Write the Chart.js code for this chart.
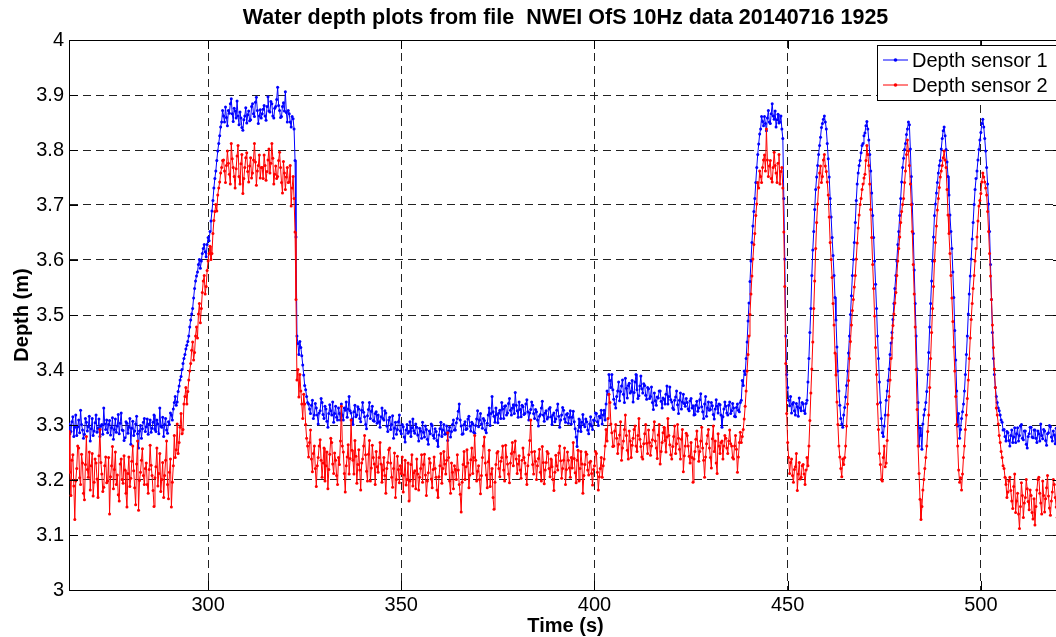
<!DOCTYPE html>
<html>
<head>
<meta charset="utf-8">
<script src="https://cdn.jsdelivr.net/npm/chart.js@4/dist/chart.umd.min.js"></script>
<style>
html,body{margin:0;padding:0;background:#fff;overflow:hidden;width:1056px;height:637px}
#wrap{width:1056px;height:637px;overflow:hidden;position:relative}
canvas{display:block}
</style>
</head>
<body>
<div id="wrap"><canvas id="c" width="1070" height="637"></canvas></div>
<script>
// ---------------- data ----------------
const chartTitle = 'Water depth plots from file  NWEI OfS 10Hz data 20140716 1925';
const xAxisTitle = 'Time (s)';
const yAxisTitle = 'Depth (m)';
const seriesLabels = ['Depth sensor 1', 'Depth sensor 2'];

const xTickValues = [300, 350, 400, 450, 500];
const xTickLabels = ['300', '350', '400', '450', '500'];
const yTickValues = [3, 3.1, 3.2, 3.3, 3.4, 3.5, 3.6, 3.7, 3.8, 3.9, 4];
const yTickLabels = ['3', '3.1', '3.2', '3.3', '3.4', '3.5', '3.6', '3.7', '3.8', '3.9', '4'];

// each row = 10 s block starting at blockStarts[r], one sample every 0.25 s
const blockStarts = [264,274,284,294,304,314,324,334,344,354,364,374,384,394,404,414,424,434,444,454,464,474,484,494,504,514];
const sampleStep = 0.25;

// Depth sensor 1 (m)
const depthSensor1 = [
[3.302,3.284,3.288,3.306,3.315,3.279,3.296,3.318,3.281,3.297,3.309,3.286,3.327,3.301,3.291,3.276,3.283,3.312,3.305,3.289,3.297,3.316,3.271,3.293,3.312,3.281,3.289,3.304,3.318,3.287,3.294,3.311,3.279,3.298,3.301,3.283,3.331,3.302,3.292,3.309],
[3.286,3.301,3.308,3.282,3.295,3.313,3.274,3.292,3.311,3.287,3.298,3.319,3.284,3.303,3.322,3.291,3.290,3.272,3.277,3.306,3.303,3.285,3.296,3.312,3.265,3.294,3.307,3.281,3.289,3.302,3.316,3.284,3.258,3.289,3.299,3.276,3.293,3.305,3.312,3.288],
[3.297,3.311,3.283,3.302,3.309,3.287,3.294,3.305,3.318,3.292,3.288,3.309,3.302,3.284,3.331,3.298,3.296,3.314,3.279,3.301,3.312,3.291,3.285,3.306,3.301,3.322,3.318,3.309,3.329,3.341,3.352,3.336,3.342,3.361,3.371,3.382,3.388,3.401,3.412,3.421],
[3.428,3.438,3.445,3.452,3.462,3.478,3.491,3.502,3.512,3.531,3.548,3.562,3.571,3.578,3.592,3.601,3.585,3.598,3.612,3.621,3.628,3.615,3.606,3.628,3.641,3.635,3.652,3.671,3.689,3.708,3.731,3.748,3.762,3.781,3.798,3.812,3.826,3.842,3.851,3.872],
[3.862,3.851,3.878,3.859,3.844,3.872,3.867,3.884,3.893,3.866,3.852,3.876,3.871,3.858,3.889,3.862,3.846,3.869,3.858,3.841,3.836,3.855,3.862,3.877,3.849,3.864,3.871,3.853,3.855,3.879,3.884,3.866,3.861,3.887,3.896,3.872,3.848,3.862,3.873,3.858],
[3.866,3.874,3.881,3.862,3.854,3.879,3.897,3.871,3.869,3.888,3.884,3.862,3.858,3.876,3.879,3.892,3.914,3.881,3.872,3.859,3.861,3.879,3.886,3.871,3.906,3.868,3.851,3.872,3.866,3.851,3.842,3.861,3.857,3.838,3.781,3.642,3.462,3.448,3.428,3.452],
[3.441,3.426,3.409,3.391,3.372,3.364,3.352,3.341,3.338,3.329,3.321,3.336,3.345,3.312,3.318,3.339,3.331,3.318,3.302,3.322,3.326,3.348,3.341,3.319,3.312,3.334,3.329,3.307,3.296,3.321,3.337,3.326,3.318,3.342,3.305,3.321,3.334,3.314,3.309,3.331],
[3.321,3.309,3.338,3.318,3.309,3.331,3.327,3.342,3.314,3.329,3.352,3.326,3.322,3.311,3.301,3.324,3.336,3.315,3.318,3.333,3.329,3.312,3.306,3.327,3.341,3.323,3.315,3.301,3.293,3.317,3.328,3.341,3.312,3.325,3.334,3.308,3.307,3.321,3.324,3.303],
[3.318,3.306,3.296,3.315,3.331,3.312,3.309,3.326,3.322,3.298,3.288,3.309,3.314,3.292,3.301,3.317,3.276,3.294,3.305,3.283,3.292,3.306,3.318,3.289,3.284,3.301,3.297,3.278,3.269,3.291,3.301,3.285,3.288,3.306,3.279,3.295,3.311,3.289,3.285,3.302],
[3.296,3.282,3.271,3.294,3.289,3.276,3.305,3.287,3.278,3.298,3.292,3.274,3.265,3.289,3.284,3.302,3.299,3.281,3.276,3.293,3.288,3.272,3.261,3.282,3.293,3.305,3.279,3.291,3.301,3.283,3.284,3.298,3.272,3.289,3.296,3.278,3.288,3.301,3.309,3.291],
[3.291,3.304,3.312,3.325,3.338,3.309,3.298,3.283,3.284,3.301,3.306,3.292,3.293,3.311,3.316,3.298,3.289,3.305,3.302,3.287,3.285,3.299,3.311,3.326,3.297,3.309,3.321,3.302,3.294,3.312,3.308,3.291,3.286,3.303,3.318,3.331,3.299,3.321,3.352,3.324],
[3.316,3.305,3.331,3.319,3.304,3.322,3.327,3.312,3.341,3.329,3.312,3.334,3.335,3.318,3.322,3.339,3.348,3.327,3.318,3.331,3.337,3.321,3.359,3.336,3.326,3.314,3.342,3.328,3.315,3.336,3.333,3.319,3.321,3.338,3.346,3.324,3.309,3.322,3.328,3.342],
[3.336,3.321,3.312,3.328,3.324,3.309,3.298,3.316,3.319,3.331,3.343,3.318,3.307,3.322,3.326,3.311,3.314,3.329,3.332,3.315,3.301,3.318,3.322,3.306,3.311,3.327,3.338,3.316,3.296,3.309,3.318,3.332,3.327,3.311,3.305,3.319,3.321,3.303,3.314,3.326],
[3.302,3.314,3.325,3.306,3.293,3.278,3.261,3.289,3.311,3.296,3.288,3.305,3.319,3.301,3.297,3.311,3.306,3.291,3.284,3.302,3.315,3.298,3.292,3.309,3.308,3.322,3.321,3.306,3.299,3.316,3.313,3.327,3.302,3.318,3.327,3.309,3.338,3.362,3.356,3.392],
[3.381,3.368,3.392,3.364,3.347,3.338,3.331,3.352,3.362,3.378,3.344,3.361,3.371,3.382,3.356,3.341,3.385,3.367,3.349,3.372,3.376,3.358,3.361,3.381,3.342,3.359,3.378,3.392,3.364,3.348,3.353,3.371,3.389,3.366,3.358,3.375,3.372,3.354,3.347,3.368],
[3.366,3.348,3.352,3.369,3.341,3.328,3.358,3.344,3.336,3.351,3.349,3.362,3.362,3.343,3.331,3.349,3.347,3.338,3.356,3.371,3.338,3.352,3.369,3.346,3.342,3.331,3.328,3.345,3.351,3.362,3.337,3.321,3.345,3.358,3.329,3.342,3.356,3.339,3.334,3.348],
[3.341,3.329,3.326,3.344,3.348,3.331,3.335,3.318,3.319,3.336,3.343,3.325,3.331,3.346,3.357,3.333,3.324,3.312,3.338,3.352,3.316,3.331,3.342,3.327,3.328,3.341,3.335,3.319,3.311,3.329,3.346,3.334,3.322,3.338,3.337,3.318,3.296,3.315,3.329,3.342],
[3.334,3.322,3.318,3.336,3.342,3.321,3.326,3.339,3.331,3.316,3.315,3.332,3.338,3.327,3.324,3.341,3.345,3.381,3.372,3.398,3.392,3.421,3.451,3.489,3.522,3.561,3.598,3.632,3.662,3.688,3.712,3.741,3.768,3.792,3.811,3.829,3.838,3.861,3.852,3.844],
[3.861,3.848,3.835,3.858,3.872,3.851,3.848,3.866,3.884,3.862,3.856,3.871,3.842,3.855,3.865,3.849,3.851,3.862,3.838,3.821,3.712,3.602,3.462,3.392,3.368,3.345,3.335,3.352,3.322,3.338,3.341,3.326,3.318,3.339,3.333,3.316,3.349,3.331,3.326,3.341],
[3.338,3.326,3.321,3.339,3.345,3.378,3.421,3.468,3.512,3.572,3.618,3.652,3.692,3.728,3.751,3.772,3.792,3.808,3.823,3.841,3.848,3.856,3.862,3.851,3.838,3.812,3.784,3.751,3.712,3.678,3.641,3.608,3.572,3.532,3.491,3.442,3.398,3.362,3.336,3.312],
[3.302,3.296,3.318,3.332,3.351,3.372,3.398,3.431,3.462,3.501,3.535,3.572,3.601,3.632,3.668,3.708,3.738,3.758,3.772,3.781,3.795,3.808,3.812,3.826,3.831,3.844,3.852,3.838,3.818,3.792,3.762,3.722,3.681,3.641,3.598,3.556,3.512,3.462,3.421,3.378],
[3.341,3.312,3.286,3.279,3.298,3.318,3.345,3.362,3.381,3.402,3.428,3.449,3.468,3.492,3.521,3.548,3.572,3.598,3.628,3.652,3.681,3.712,3.742,3.768,3.785,3.801,3.812,3.828,3.838,3.851,3.846,3.802,3.752,3.702,3.648,3.582,3.521,3.462,3.402,3.341],
[3.262,3.295,3.281,3.256,3.302,3.318,3.328,3.341,3.361,3.392,3.432,3.478,3.521,3.562,3.598,3.642,3.681,3.702,3.722,3.741,3.758,3.772,3.781,3.802,3.821,3.835,3.842,3.826,3.801,3.778,3.752,3.718,3.682,3.652,3.621,3.578,3.532,3.472,3.418,3.362],
[3.298,3.321,3.276,3.292,3.312,3.324,3.338,3.362,3.392,3.428,3.462,3.502,3.538,3.571,3.602,3.638,3.668,3.701,3.728,3.748,3.762,3.782,3.801,3.818,3.832,3.848,3.856,3.842,3.821,3.798,3.768,3.738,3.702,3.652,3.592,3.528,3.468,3.421,3.392,3.368],
[3.352,3.341,3.331,3.326,3.318,3.309,3.305,3.291,3.292,3.279,3.271,3.288,3.286,3.272,3.262,3.281,3.291,3.268,3.278,3.295,3.268,3.284,3.295,3.271,3.281,3.298,3.301,3.276,3.273,3.289,3.289,3.265,3.258,3.279,3.284,3.296,3.296,3.278,3.277,3.291],
[3.291,3.276,3.268,3.289,3.284,3.271,3.302,3.281,3.275,3.292,3.289,3.272,3.263,3.284,3.286,3.299,3.297,3.278,3.271,3.289,3.282,3.266,3.294,3.279,3.267,3.286,3.285,3.301,3.279,3.268,3.298,3.281,3.274,3.292,3.288,3.271,3.266,3.285,3.283,3.274]
];

// Depth sensor 2 (m)
const depthSensor2 = [
[3.288,3.214,3.172,3.236,3.246,3.189,3.128,3.198,3.221,3.262,3.258,3.204,3.192,3.247,3.231,3.176,3.164,3.228,3.279,3.219,3.205,3.251,3.182,3.226,3.248,3.171,3.196,3.238,3.231,3.202,3.168,3.244,3.292,3.232,3.211,3.179,3.187,3.226,3.242,3.195],
[3.198,3.241,3.138,3.206,3.226,3.261,3.184,3.219,3.251,3.192,3.209,3.173,3.162,3.229,3.238,3.201,3.194,3.244,3.218,3.176,3.151,3.212,3.242,3.188,3.203,3.234,3.262,3.217,3.186,3.155,3.229,3.271,3.145,3.199,3.214,3.236,3.257,3.208,3.192,3.221],
[3.231,3.192,3.176,3.219,3.263,3.227,3.208,3.181,3.152,3.204,3.224,3.258,3.189,3.212,3.248,3.179,3.201,3.232,3.168,3.208,3.236,3.271,3.192,3.166,3.214,3.238,3.151,3.196,3.226,3.281,3.241,3.255,3.302,3.248,3.268,3.296,3.321,3.284,3.292,3.338],
[3.352,3.368,3.338,3.361,3.382,3.398,3.412,3.436,3.451,3.418,3.432,3.462,3.478,3.458,3.502,3.521,3.486,3.512,3.541,3.562,3.572,3.538,3.552,3.581,3.598,3.612,3.625,3.601,3.612,3.648,3.672,3.688,3.701,3.689,3.718,3.731,3.742,3.758,3.768,3.781],
[3.782,3.762,3.741,3.772,3.798,3.776,3.756,3.738,3.812,3.784,3.768,3.752,3.731,3.766,3.789,3.808,3.752,3.738,3.775,3.792,3.721,3.748,3.768,3.786,3.795,3.761,3.742,3.771,3.786,3.749,3.758,3.782,3.812,3.778,3.736,3.762,3.772,3.791,3.749,3.768],
[3.768,3.748,3.791,3.772,3.745,3.761,3.782,3.802,3.758,3.776,3.812,3.785,3.738,3.756,3.771,3.748,3.752,3.781,3.796,3.768,3.741,3.722,3.779,3.758,3.728,3.751,3.768,3.741,3.742,3.772,3.698,3.731,3.752,3.712,3.651,3.528,3.382,3.401,3.351,3.392],
[3.362,3.338,3.312,3.356,3.338,3.301,3.276,3.262,3.242,3.268,3.291,3.238,3.215,3.248,3.262,3.221,3.188,3.226,3.241,3.262,3.273,3.236,3.205,3.231,3.258,3.198,3.226,3.251,3.184,3.219,3.247,3.276,3.268,3.229,3.212,3.249,3.236,3.208,3.192,3.241],
[3.228,3.271,3.334,3.262,3.251,3.212,3.178,3.226,3.242,3.264,3.211,3.239,3.309,3.254,3.236,3.211,3.272,3.243,3.194,3.228,3.255,3.218,3.182,3.231,3.238,3.262,3.281,3.246,3.216,3.198,3.247,3.272,3.198,3.222,3.263,3.241,3.229,3.192,3.252,3.224],
[3.214,3.241,3.268,3.229,3.196,3.218,3.241,3.208,3.176,3.221,3.232,3.255,3.258,3.231,3.205,3.187,3.221,3.249,3.168,3.201,3.243,3.219,3.195,3.226,3.212,3.242,3.178,3.209,3.236,3.191,3.201,3.231,3.162,3.198,3.228,3.246,3.189,3.213,3.217,3.184],
[3.238,3.211,3.182,3.205,3.221,3.246,3.196,3.228,3.247,3.209,3.172,3.198,3.213,3.239,3.231,3.202,3.186,3.219,3.242,3.221,3.205,3.182,3.168,3.206,3.226,3.248,3.194,3.221,3.252,3.229,3.211,3.236,3.286,3.241,3.198,3.176,3.231,3.214,3.184,3.226],
[3.219,3.201,3.246,3.218,3.192,3.174,3.142,3.196,3.228,3.252,3.201,3.224,3.255,3.231,3.186,3.209,3.237,3.258,3.212,3.241,3.281,3.236,3.198,3.216,3.226,3.201,3.175,3.208,3.241,3.262,3.278,3.231,3.209,3.186,3.233,3.254,3.188,3.211,3.221,3.168],
[3.147,3.196,3.228,3.249,3.252,3.221,3.206,3.234,3.241,3.262,3.218,3.198,3.263,3.242,3.229,3.211,3.195,3.231,3.248,3.268,3.226,3.251,3.271,3.238,3.212,3.229,3.244,3.218,3.203,3.236,3.258,3.241,3.231,3.211,3.192,3.226,3.246,3.272,3.309,3.251],
[3.228,3.211,3.252,3.234,3.201,3.226,3.239,3.256,3.214,3.198,3.261,3.232,3.193,3.218,3.232,3.252,3.248,3.221,3.206,3.238,3.224,3.201,3.181,3.214,3.245,3.226,3.218,3.249,3.262,3.235,3.203,3.221,3.236,3.258,3.192,3.219,3.251,3.236,3.222,3.205],
[3.241,3.222,3.268,3.239,3.213,3.195,3.236,3.254,3.198,3.221,3.252,3.229,3.176,3.208,3.228,3.251,3.247,3.218,3.209,3.232,3.234,3.212,3.191,3.219,3.226,3.252,3.248,3.214,3.182,3.206,3.221,3.241,3.205,3.226,3.238,3.262,3.292,3.271,3.312,3.356],
[3.341,3.302,3.286,3.261,3.262,3.289,3.301,3.276,3.248,3.265,3.282,3.306,3.236,3.258,3.271,3.292,3.318,3.281,3.254,3.238,3.289,3.271,3.241,3.263,3.276,3.292,3.298,3.262,3.252,3.281,3.312,3.274,3.261,3.242,3.238,3.266,3.284,3.301,3.267,3.248],
[3.291,3.268,3.245,3.262,3.273,3.291,3.306,3.271,3.258,3.239,3.282,3.301,3.229,3.252,3.268,3.286,3.296,3.272,3.251,3.278,3.312,3.281,3.264,3.246,3.238,3.261,3.279,3.298,3.248,3.266,3.301,3.276,3.256,3.238,3.274,3.292,3.215,3.244,3.262,3.285],
[3.281,3.262,3.243,3.231,3.268,3.241,3.196,3.238,3.252,3.274,3.289,3.261,3.234,3.252,3.271,3.296,3.258,3.236,3.205,3.242,3.266,3.281,3.292,3.258,3.241,3.222,3.275,3.298,3.252,3.271,3.231,3.212,3.284,3.262,3.248,3.268,3.271,3.238,3.262,3.281],
[3.276,3.258,3.248,3.271,3.291,3.266,3.262,3.241,3.238,3.262,3.281,3.256,3.214,3.242,3.268,3.287,3.268,3.279,3.292,3.311,3.334,3.362,3.398,3.428,3.462,3.501,3.538,3.571,3.602,3.628,3.648,3.681,3.702,3.741,3.731,3.762,3.752,3.741,3.768,3.782],
[3.791,3.762,3.838,3.782,3.752,3.771,3.781,3.748,3.742,3.768,3.796,3.772,3.758,3.741,3.776,3.792,3.738,3.761,3.768,3.731,3.651,3.552,3.412,3.321,3.268,3.241,3.212,3.232,3.238,3.208,3.196,3.219,3.224,3.248,3.181,3.211,3.232,3.202,3.205,3.226],
[3.228,3.211,3.192,3.218,3.241,3.226,3.262,3.308,3.358,3.402,3.451,3.512,3.562,3.621,3.668,3.702,3.732,3.758,3.771,3.741,3.752,3.782,3.792,3.771,3.761,3.742,3.718,3.678,3.632,3.601,3.568,3.521,3.482,3.431,3.391,3.342,3.301,3.262,3.242,3.221],
[3.206,3.238,3.228,3.241,3.262,3.298,3.338,3.381,3.421,3.452,3.482,3.508,3.528,3.551,3.572,3.602,3.631,3.658,3.682,3.701,3.712,3.728,3.738,3.749,3.756,3.781,3.808,3.792,3.772,3.738,3.692,3.641,3.592,3.548,3.498,3.441,3.392,3.338,3.292,3.248],
[3.228,3.201,3.198,3.241,3.262,3.224,3.231,3.272,3.318,3.352,3.382,3.421,3.458,3.481,3.502,3.522,3.541,3.572,3.598,3.621,3.642,3.668,3.688,3.701,3.712,3.741,3.762,3.792,3.818,3.798,3.772,3.738,3.701,3.652,3.592,3.538,3.478,3.401,3.328,3.262],
[3.212,3.165,3.128,3.152,3.182,3.201,3.221,3.241,3.262,3.288,3.318,3.368,3.421,3.468,3.512,3.552,3.598,3.632,3.662,3.691,3.712,3.732,3.751,3.762,3.772,3.786,3.798,3.782,3.768,3.728,3.682,3.648,3.612,3.572,3.531,3.488,3.442,3.398,3.352,3.301],
[3.262,3.218,3.196,3.204,3.182,3.211,3.241,3.262,3.292,3.318,3.348,3.382,3.421,3.458,3.492,3.521,3.548,3.572,3.598,3.621,3.642,3.671,3.698,3.708,3.721,3.742,3.758,3.751,3.742,3.731,3.718,3.688,3.652,3.612,3.571,3.528,3.482,3.441,3.402,3.368],
[3.331,3.318,3.302,3.281,3.268,3.252,3.241,3.226,3.221,3.205,3.192,3.168,3.178,3.198,3.205,3.181,3.162,3.148,3.188,3.211,3.141,3.162,3.176,3.138,3.112,3.152,3.195,3.172,3.132,3.158,3.168,3.201,3.184,3.161,3.146,3.182,3.172,3.141,3.129,3.166],
[3.118,3.152,3.182,3.201,3.205,3.176,3.158,3.138,3.198,3.172,3.142,3.166,3.186,3.208,3.171,3.149,3.136,3.162,3.178,3.201,3.192,3.168,3.151,3.132,3.174,3.191,3.142,3.168,3.188,3.156,3.161,3.182,3.145,3.128,3.179,3.195,3.152,3.171,3.168,3.142]
];

// ---------------- chart ----------------
const FONT = '"Liberation Sans", Arial, Helvetica, sans-serif';
Chart.defaults.font.family = FONT;
Chart.defaults.color = '#000';

const toPoints = rows => rows.flatMap((row, r) =>
  row.map((v, j) => ({ x: blockStarts[r] + j * sampleStep, y: v })));

const frameAndTicks = {
  id: 'frameAndTicks',
  afterDatasetsDraw(chart) {
    const { ctx, chartArea: a, scales } = chart;
    ctx.save();
    ctx.strokeStyle = '#000';
    ctx.lineWidth = 1;
    ctx.beginPath();
    ctx.moveTo(a.left, a.top + 0.5); ctx.lineTo(a.right, a.top + 0.5);
    ctx.moveTo(a.right - 0.5, a.top); ctx.lineTo(a.right - 0.5, a.bottom);
    const tl = 9;
    xTickValues.forEach(v => {
      const px = Math.round(scales.x.getPixelForValue(v)) + 0.5;
      ctx.moveTo(px, a.bottom); ctx.lineTo(px, a.bottom - tl);
      ctx.moveTo(px, a.top); ctx.lineTo(px, a.top + tl);
    });
    yTickValues.forEach(v => {
      const py = Math.round(scales.y.getPixelForValue(v)) + 0.5;
      ctx.moveTo(a.left, py); ctx.lineTo(a.left + tl, py);
      ctx.moveTo(a.right, py); ctx.lineTo(a.right - tl, py);
    });
    ctx.stroke();
    ctx.restore();
  }
};

const boxedLegend = {
  id: 'boxedLegend',
  afterDraw(chart) {
    const { ctx, chartArea: a } = chart;
    const x0 = a.right - 185, y0 = a.top + 5, w = 180, h = 55;
    ctx.save();
    ctx.fillStyle = '#fff';
    ctx.fillRect(x0, y0, w, h);
    ctx.strokeStyle = '#000';
    ctx.lineWidth = 1;
    ctx.strokeRect(x0 + 0.5, y0 + 0.5, w, h);
    chart.data.datasets.forEach((ds, i) => {
      const y = y0 + 15 + i * 25;
      ctx.strokeStyle = ds.borderColor;
      ctx.lineWidth = 1;
      ctx.beginPath();
      ctx.moveTo(x0 + 6, y); ctx.lineTo(x0 + 31, y);
      ctx.stroke();
      ctx.fillStyle = ds.borderColor;
      ctx.beginPath();
      ctx.arc(x0 + 18.5, y, 1.8, 0, Math.PI * 2);
      ctx.fill();
      ctx.fillStyle = '#000';
      ctx.font = '20px ' + FONT;
      ctx.textBaseline = 'middle';
      ctx.textAlign = 'left';
      ctx.fillText(ds.label, x0 + 35, y + 1);
    });
    ctx.restore();
  }
};

new Chart(document.getElementById('c'), {
  type: 'line',
  data: {
    datasets: [
      {
        label: seriesLabels[0],
        data: toPoints(depthSensor1),
        borderColor: '#0000ff',
        backgroundColor: '#0000ff',
        pointBackgroundColor: '#0000ff',
        borderWidth: 1,
        pointRadius: 1.5,
        pointBorderWidth: 0,
        tension: 0,
        order: 1
      },
      {
        label: seriesLabels[1],
        data: toPoints(depthSensor2),
        borderColor: '#ff0000',
        backgroundColor: '#ff0000',
        pointBackgroundColor: '#ff0000',
        borderWidth: 1,
        pointRadius: 1.5,
        pointBorderWidth: 0,
        tension: 0,
        order: 0
      }
    ]
  },
  options: {
    responsive: false,
    animation: false,
    events: [],
    layout: { padding: { left: 0, right: 8, top: 0, bottom: 0 }, autoPadding: false },
    plugins: {
      legend: { display: false },
      tooltip: { enabled: false },
      title: {
        display: true,
        text: chartTitle,
        fullSize: false,
        color: '#000',
        font: { size: 21.5, weight: 'bold', lineHeight: 1 },
        padding: { top: 7, bottom: 11.5 }
      }
    },
    scales: {
      x: {
        type: 'linear',
        min: 264,
        max: 521,
        afterBuildTicks: s => { s.ticks = xTickValues.map(v => ({ value: v })); },
        afterFit: s => { s.height = 47; },
        ticks: {
          autoSkip: false,
          maxRotation: 0,
          padding: 3,
          font: { size: 20 },
          color: '#000',
          callback: v => xTickLabels[xTickValues.indexOf(v)]
        },
        grid: { color: '#222', lineWidth: 1, drawTicks: false },
        border: { display: true, color: '#000', width: 1, dash: [8, 5] },
        title: {
          display: true,
          text: xAxisTitle,
          font: { size: 20, weight: 'bold', lineHeight: 1 },
          color: '#000',
          padding: { top: 0, bottom: 1 }
        }
      },
      y: {
        type: 'linear',
        min: 3,
        max: 4,
        afterBuildTicks: s => { s.ticks = yTickValues.map(v => ({ value: v })); },
        afterFit: s => { s.width = 69; },
        ticks: {
          autoSkip: false,
          padding: 5,
          font: { size: 20 },
          color: '#000',
          callback: v => yTickLabels[yTickValues.findIndex(t => Math.abs(t - v) < 1e-9)]
        },
        grid: { color: '#222', lineWidth: 1, drawTicks: false },
        border: { display: true, color: '#000', width: 1, dash: [8, 5] },
        title: {
          display: true,
          text: yAxisTitle,
          font: { size: 20, weight: 'bold', lineHeight: 1 },
          color: '#000',
          padding: { top: 12, bottom: 0 }
        }
      }
    }
  },
  plugins: [frameAndTicks, boxedLegend]
});
</script>
</body>
</html>
